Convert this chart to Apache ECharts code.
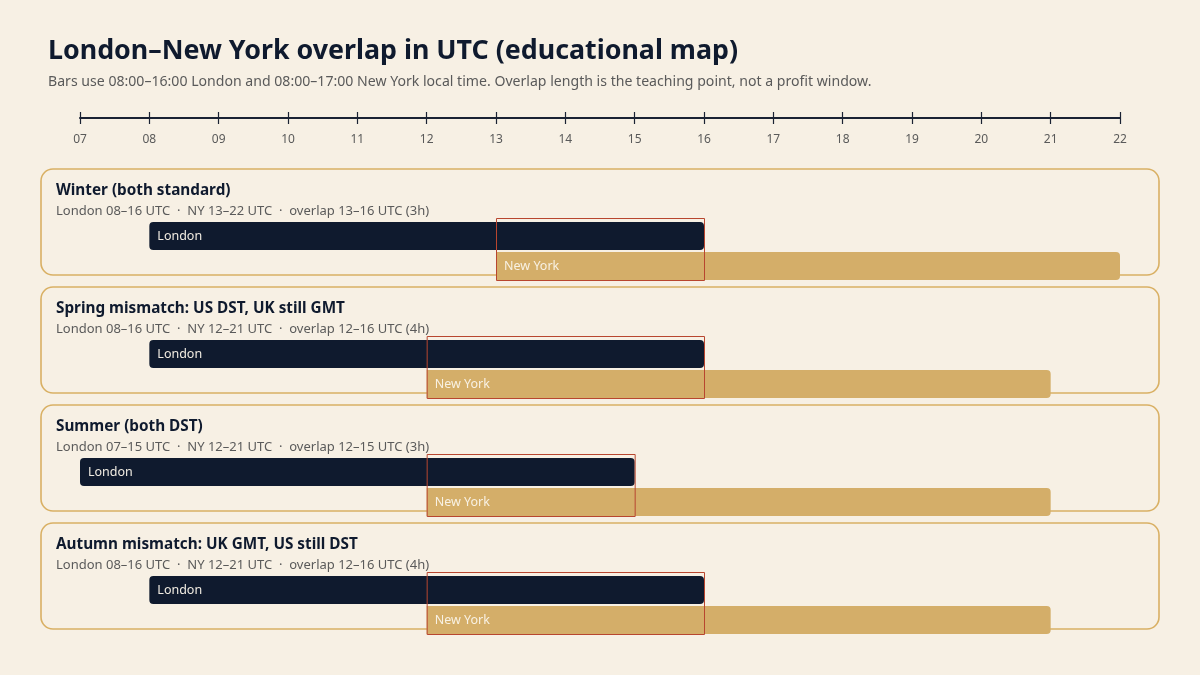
<!DOCTYPE html>
<html><head><meta charset="utf-8">
<script src="https://cdn.jsdelivr.net/npm/echarts@6/dist/echarts.min.js"></script>
<style>html,body{margin:0;padding:0;background:#f7f0e4}#c{width:1200px;height:675px}</style>
</head><body><div id="c"></div>
<script>
const hourTicks = [7,8,9,10,11,12,13,14,15,16,17,18,19,20,21,22];
const seasons = ['Winter (both standard)', 'Spring mismatch: US DST, UK still GMT', 'Summer (both DST)', 'Autumn mismatch: UK GMT, US still DST'];
const londonStart = [8, 8, 7, 8];
const londonEnd = [16, 16, 15, 16];
const nyStart = [13, 12, 12, 12];
const nyEnd = [22, 21, 21, 21];
const overlapStart = [13, 12, 12, 12];
const overlapEnd = [16, 16, 15, 16];
const overlapHours = [3, 4, 3, 4];

const FONT = '"Noto Sans", "Open Sans", sans-serif';
const pad = n => (n < 10 ? '0' : '') + n;
const NAVY = '#0f1a2e', GOLD = '#d4ae69', BORDER = '#d9b064', RED = '#b8462f';

const chart = echarts.init(document.getElementById('c'));
const rows = seasons.map((s, i) => [i, londonStart[i], londonEnd[i], nyStart[i], nyEnd[i], overlapStart[i], overlapEnd[i]]);

function renderItem(params, api) {
  const i = api.value(0);
  const c = api.coord([hourTicks[0], i]);
  const cy = c[1];
  const axL = api.coord([hourTicks[0], i])[0];
  const axR = api.coord([hourTicks[hourTicks.length - 1], i])[0];
  const lx0 = api.coord([api.value(1), i])[0], lx1 = api.coord([api.value(2), i])[0];
  const nx0 = api.coord([api.value(3), i])[0], nx1 = api.coord([api.value(4), i])[0];
  const ox0 = api.coord([api.value(5), i])[0], ox1 = api.coord([api.value(6), i])[0];
  const panelTop = cy - 8;
  const sub = 'London ' + pad(londonStart[i]) + '–' + pad(londonEnd[i]) + ' UTC  ·  NY ' + pad(nyStart[i]) + '–' + pad(nyEnd[i]) +
    ' UTC  ·  overlap ' + pad(overlapStart[i]) + '–' + pad(overlapEnd[i]) + ' UTC (' + overlapHours[i] + 'h)';
  return {
    type: 'group',
    children: [
      { type: 'rect', shape: { x: axL - 39, y: panelTop, width: axR - axL + 78, height: 106, r: 12 },
        style: { fill: 'none', stroke: BORDER, lineWidth: 1.6 } },
      { type: 'text', x: axL - 24, y: panelTop + 22,
        style: { text: seasons[i], fill: NAVY, font: 'bold 15.3px ' + FONT, verticalAlign: 'middle' } },
      { type: 'text', x: axL - 24, y: panelTop + 42,
        style: { text: sub, fill: '#5a5a5a', font: '13px ' + FONT, verticalAlign: 'middle' } },
      { type: 'rect', shape: { x: lx0, y: cy + 45, width: lx1 - lx0, height: 28, r: 4 },
        style: { fill: NAVY } },
      { type: 'text', x: lx0 + 8, y: cy + 59,
        style: { text: 'London', fill: '#f1ece2', font: '12.5px ' + FONT, verticalAlign: 'middle' } },
      { type: 'rect', shape: { x: nx0, y: cy + 75, width: nx1 - nx0, height: 28, r: [0, 4, 4, 0] },
        style: { fill: GOLD } },
      { type: 'text', x: nx0 + 8, y: cy + 89,
        style: { text: 'New York', fill: '#f8f1e3', font: '12.5px ' + FONT, verticalAlign: 'middle' } },
      { type: 'rect', shape: { x: ox0 + 0.5, y: cy + 41.5, width: ox1 - ox0, height: 62 },
        style: { fill: 'none', stroke: RED, lineWidth: 1 } }
    ]
  };
}

chart.setOption({
  backgroundColor: '#f7f0e4',
  animation: false,
  title: [
    { text: 'London–New York overlap in UTC (educational map)', left: 48, top: 38, padding: 0,
      textStyle: { fontFamily: FONT, fontSize: 26.8, fontWeight: 'bold', color: NAVY } },
    { text: 'Bars use 08:00–16:00 London and 08:00–17:00 New York local time. Overlap length is the teaching point, not a profit window.',
      left: 48, top: 75, padding: 0, textStyle: { fontFamily: FONT, fontSize: 14.1, fontWeight: 'normal', color: '#5a5a5a' } }
  ],
  grid: [
    { left: 80, right: 80, top: 118, height: 472 },
    { left: 80, right: 80, top: 118, height: 472 }
  ],
  xAxis: [
    { type: 'value', gridIndex: 0, position: 'top', min: 7, max: 22, interval: 1,
      axisLine: { show: true, lineStyle: { color: '#1a2233', width: 2 } },
      axisTick: { show: true, length: 6, lineStyle: { color: '#1a2233', width: 1.2 } },
      axisLabel: { inside: true, margin: 16, color: '#5a5a5a', fontFamily: FONT, fontSize: 12,
        formatter: v => pad(v) },
      splitLine: { show: false } },
    { type: 'value', gridIndex: 1, position: 'top', min: 7, max: 22, interval: 1,
      axisLine: { show: false },
      axisTick: { show: true, inside: true, length: 6, lineStyle: { color: '#1a2233', width: 1.2 } },
      axisLabel: { show: false }, splitLine: { show: false } }
  ],
  yAxis: [
    { type: 'category', gridIndex: 0, data: seasons, inverse: true, show: false },
    { type: 'category', gridIndex: 1, data: seasons, inverse: true, show: false }
  ],
  series: [{
    type: 'custom', xAxisIndex: 0, yAxisIndex: 0, renderItem: renderItem,
    encode: { x: [1, 2, 3, 4], y: 0 }, data: rows, clip: false
  }]
});
</script></body></html>
